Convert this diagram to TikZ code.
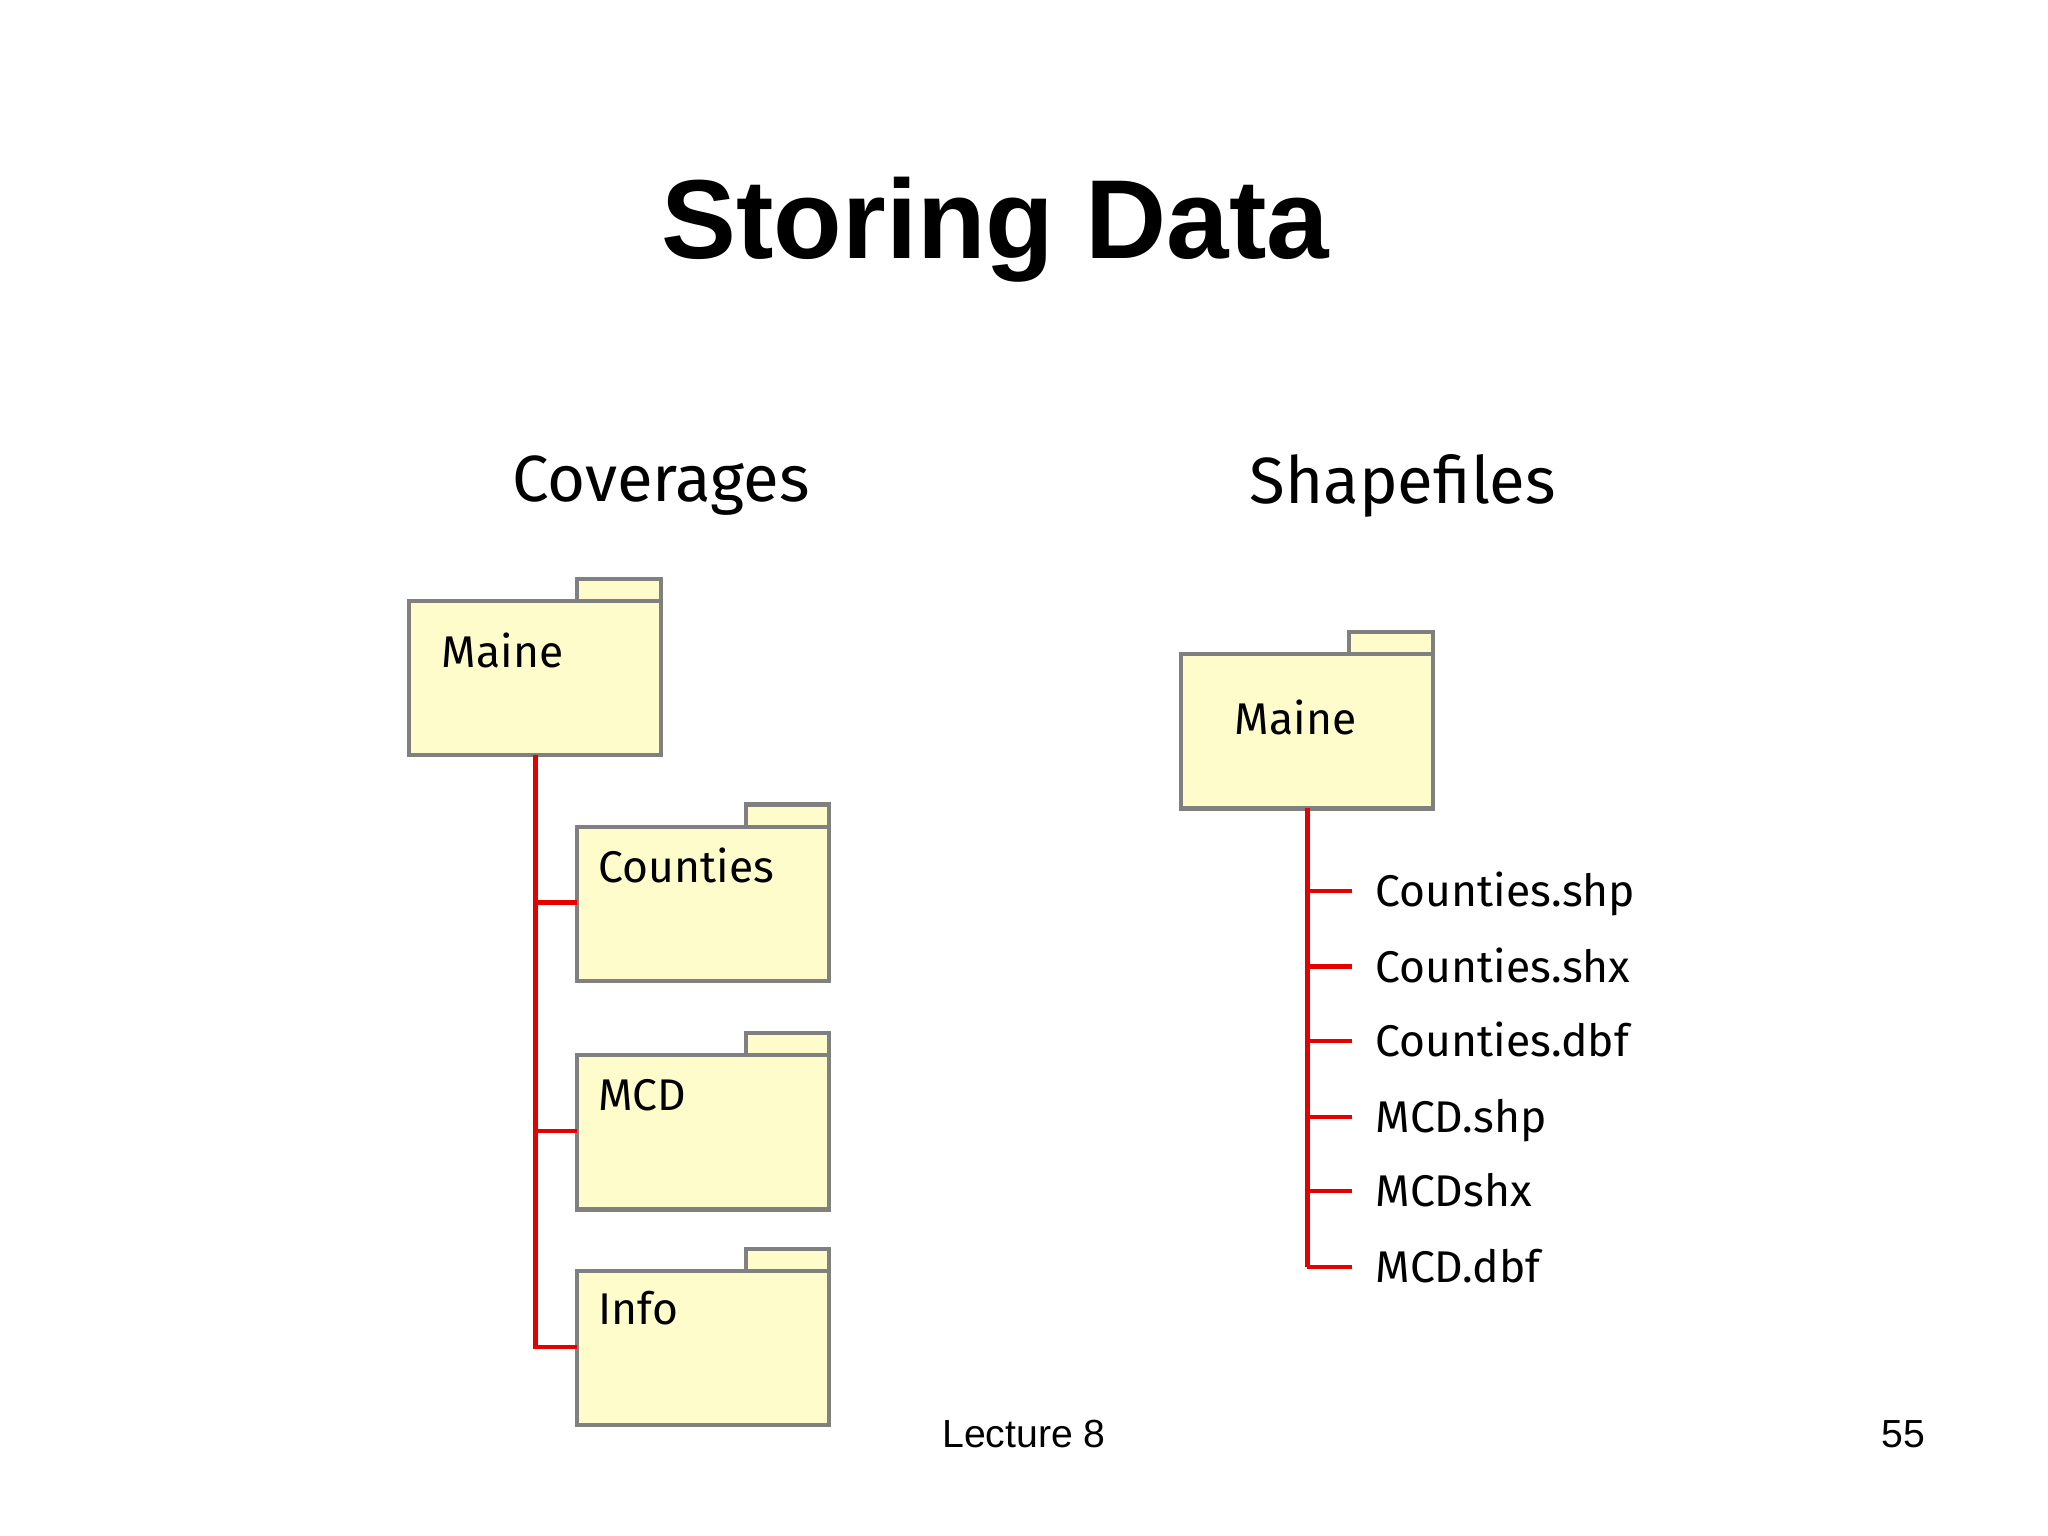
\documentclass[tikz,border=0pt]{standalone}
\usepackage{fontspec}
\setmainfont{Liberation Sans}
\newfontfamily\hand{Fira Sans}
\begin{document}
\begin{tikzpicture}[x=0.5pt,y=-0.5pt,
  fold/.style={draw=black!50,line width=1.6pt,fill=yellow!20},
  tree/.style={draw=red!90!black,line width=1.6pt},
  lab/.style={anchor=base west,font=\hand\fontsize{17}{20}\selectfont,inner sep=0pt},
  head/.style={font=\hand\fontsize{25}{30}\selectfont}]
\useasboundingbox (0,0) rectangle (1568,1176);
\node[font=\bfseries\fontsize{43}{50}\selectfont] (t) at (762,176) {Storing Data};
\node[head] (hc) at (506,372) {Coverages};
\node[head] (hs) at (1074,372) {Shapefiles};
% folders
\foreach \n/\x/\y/\t/\lx/\ly in {m1/313/460/Maine/338/511, c/442/633/Counties/458/676, d/442/808/MCD/458/850, fi/442/973/Info/458/1014, m2/904/501/Maine/945/562}{
  \draw[fold] (\x+129,\y-17) rectangle (\x+193,\y);
  \draw[fold] (\x,\y) rectangle (\x+193,\y+118);
  \node[lab] (\n-t) at (\lx,\ly) {\t};
}
\coordinate (a1) at (410,578);
\coordinate (a2) at (410,1031);
\coordinate (a3) at (442,1031);
\draw[tree] (a1) -- (a2) -- (a3);
\draw[tree] (410,691) -- (442,691);
\draw[tree] (410,866) -- (442,866);
\coordinate (b1) at (1001,619);
\coordinate (b2) at (1001,970);
\draw[tree] (b1) -- (b2);
\foreach \y/\t [count=\k] in {682/Counties.shp,740/Counties.shx,797/Counties.dbf,855/MCD.shp,912/MCDshx,970/MCD.dbf}{
  \node[lab] (f\k) at (1053,\y+12) {\t};
  \draw[tree] (1001,\y) -- (1035,\y);
}
\node[font=\fontsize{15}{18}\selectfont] (lec) at (784,1098) {Lecture 8};
\node[font=\fontsize{15}{18}\selectfont] (pg) at (1457,1098) {55};
\end{tikzpicture}
\end{document}
